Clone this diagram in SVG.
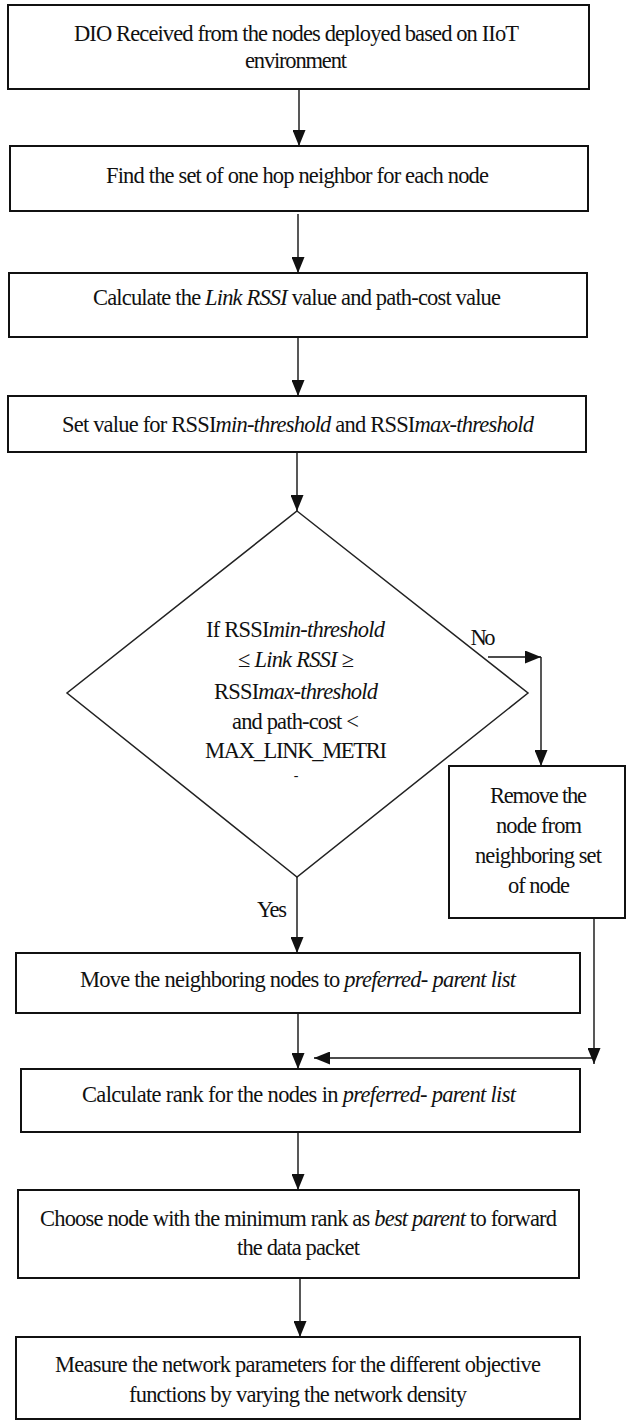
<svg xmlns="http://www.w3.org/2000/svg" width="627" height="1423" viewBox="0 0 627 1423">
<style>
.box{fill:#fff;stroke:#111;stroke-width:2}
.dia{fill:#fff;stroke:#222;stroke-width:1.5}
.t{font-family:"Liberation Serif","Times New Roman",serif;font-size:22.5px;fill:#111;text-anchor:middle}
.i{font-style:italic}
.c{fill:none;stroke:#111;stroke-width:1.4}
</style>
<defs>
<marker id="ah" viewBox="0 0 16 13" refX="16" refY="6.5" markerWidth="16" markerHeight="13" markerUnits="userSpaceOnUse" orient="auto">
<path d="M0,0 L16,6.5 L0,13 z" fill="#111"/>
</marker>
</defs>
<rect width="627" height="1423" fill="#fff"/>
<g id="connectors">
<line class="c" x1="299" y1="89" x2="299" y2="146" marker-end="url(#ah)"/>
<line class="c" x1="298" y1="214" x2="298" y2="273" marker-end="url(#ah)"/>
<line class="c" x1="298" y1="337" x2="298" y2="396" marker-end="url(#ah)"/>
<line class="c" x1="297" y1="452" x2="297" y2="511" marker-end="url(#ah)"/>
<line class="c" x1="488" y1="657" x2="541" y2="657" marker-end="url(#ah)"/>
<line class="c" x1="541" y1="657" x2="541" y2="766" marker-end="url(#ah)"/>
<line class="c" x1="297" y1="877" x2="297" y2="953" marker-end="url(#ah)"/>
<line class="c" x1="298" y1="1013" x2="298" y2="1069" marker-end="url(#ah)"/>
<line class="c" x1="594" y1="918" x2="594" y2="1064" marker-end="url(#ah)"/>
<line class="c" x1="594" y1="1058" x2="314" y2="1058" marker-end="url(#ah)"/>
<line class="c" x1="298" y1="1132" x2="298" y2="1190" marker-end="url(#ah)"/>
<line class="c" x1="300" y1="1278" x2="300" y2="1337" marker-end="url(#ah)"/>
<text class="t" x="483" y="645" textLength="25">No</text>
<text class="t" x="272" y="917" textLength="30">Yes</text>
</g>
<g id="n1">
<rect class="box" x="8" y="5" width="581" height="84"/>
<text class="t" x="296.5" y="41" textLength="445">DIO Received from the nodes deployed based on IIoT</text>
<text class="t" x="296" y="68" textLength="102">environment</text>
</g>
<g id="n2">
<rect class="box" x="10" y="146" width="578" height="65"/>
<text class="t" x="297.5" y="183" textLength="383">Find the set of one hop neighbor for each node</text>
</g>
<g id="n3">
<rect class="box" x="9" y="273" width="578" height="64"/>
<text class="t" x="297" y="305" textLength="408">Calculate the <tspan class="i">Link RSSI</tspan> value and path-cost value</text>
</g>
<g id="n4">
<rect class="box" x="8" y="396" width="578" height="56"/>
<text class="t" x="298" y="432" textLength="472">Set value for RSSI<tspan class="i">min-threshold</tspan> and RSSI<tspan class="i">max-threshold</tspan></text>
</g>
<g id="n5">
<polygon class="dia" points="297,511 528,693 297,877 67,693"/>
<text class="t" x="295.5" y="637" textLength="179">If RSSI<tspan class="i">min-threshold</tspan></text>
<text class="t" x="296" y="667" textLength="116">≤ <tspan class="i">Link RSSI</tspan> ≥</text>
<text class="t" x="296" y="699" textLength="164">RSSI<tspan class="i">max-threshold</tspan></text>
<text class="t" x="295.5" y="729" textLength="127">and path-cost &lt;</text>
<text class="t" x="296" y="758" textLength="182">MAX_LINK_METRI</text>
<text class="t" x="296" y="780" style="font-size:14px">-</text>
</g>
<g id="n6">
<rect class="box" x="449" y="766" width="176" height="152"/>
<text class="t" x="538.5" y="803" textLength="97">Remove the</text>
<text class="t" x="539" y="833" textLength="86">node from</text>
<text class="t" x="538.5" y="863" textLength="127">neighboring set</text>
<text class="t" x="539" y="893" textLength="62">of node</text>
</g>
<g id="n7">
<rect class="box" x="16" y="953" width="564" height="60"/>
<text class="t" x="298" y="987" textLength="436">Move the neighboring nodes to <tspan class="i">preferred- parent list</tspan></text>
</g>
<g id="n8">
<rect class="box" x="21" y="1069" width="559" height="63"/>
<text class="t" x="299" y="1102" textLength="434">Calculate rank for the nodes in <tspan class="i">preferred- parent list</tspan></text>
</g>
<g id="n9">
<rect class="box" x="18" y="1190" width="561" height="88"/>
<text class="t" x="298.5" y="1226" textLength="517">Choose node with the minimum rank as <tspan class="i">best parent</tspan> to forward</text>
<text class="t" x="298.5" y="1255" textLength="123">the data packet</text>
</g>
<g id="n10">
<rect class="box" x="16" y="1337" width="564" height="82"/>
<text class="t" x="298" y="1372" textLength="486">Measure the network parameters for the different objective</text>
<text class="t" x="298" y="1402" textLength="338">functions by varying the network density</text>
</g>
</svg>
